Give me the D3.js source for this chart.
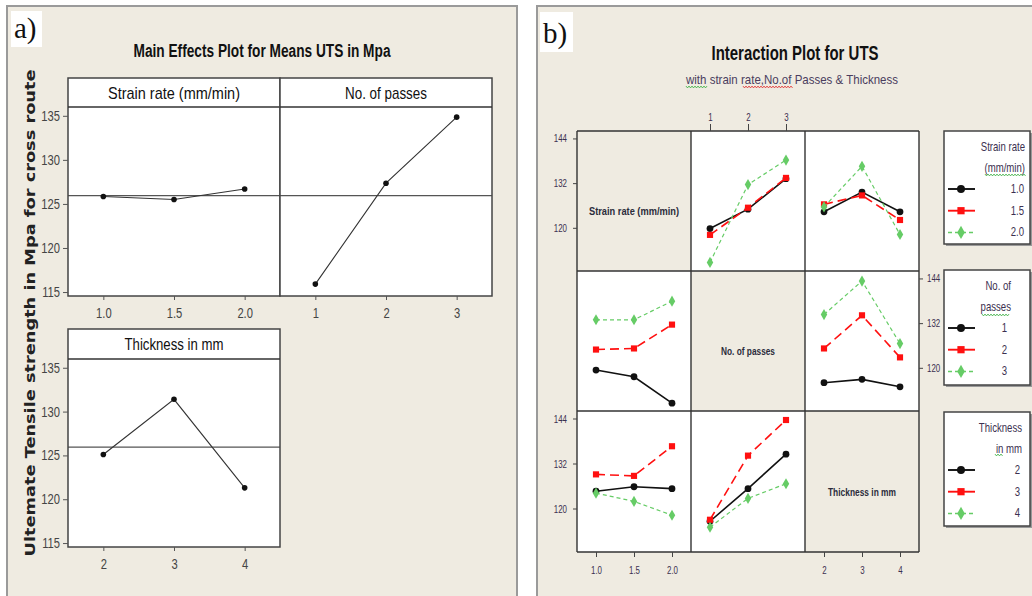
<!DOCTYPE html>
<html><head><meta charset="utf-8">
<script src="https://cdn.jsdelivr.net/npm/d3@7"></script>
<style>body{margin:0;background:#fff}svg{display:block}</style>
</head><body>
<script>
// ---------- DATA ----------
const strainLevels = ["1.0", "1.5", "2.0"];
const passLevels = ["1", "2", "3"];
const thickLevels = ["2", "3", "4"];
const mainTicks = [115, 120, 125, 130, 135];
const interTicks = [120, 132, 144];

// Main effects (means of UTS)
const meStrain = [125.85, 125.5, 126.7];
const mePasses = [115.9, 127.35, 134.85];
const meThick = [125.1, 131.4, 121.3];
const grandMean = 125.95;

// Interaction: rows = series factor levels, columns = x factor levels
const srByPasses = [[119.8, 125.0, 133.2], [118.1, 125.4, 133.4], [110.7, 131.6, 138.2]];
const srByThick = [[124.3, 129.6, 124.3], [126.3, 128.7, 122.1], [125.6, 136.5, 118.2]];
const passBySr = [[119.4, 117.6, 110.5], [124.9, 125.2, 131.6], [132.9, 132.9, 137.9]];
const passByThick = [[116.0, 116.9, 114.9], [125.2, 134.1, 122.8], [134.3, 143.3, 126.5]];
const thickBySr = [[124.6, 125.8, 125.3], [129.1, 128.7, 136.6], [124.1, 121.9, 118.2]];
const thickByPasses = [[116.6, 125.3, 134.5], [117.0, 134.1, 143.6], [115.0, 122.7, 126.6]];

const factorNames = ["Strain rate (mm/min)", "No. of passes", "Thickness in mm"];
const factorLevels = [strainLevels, passLevels, thickLevels];
const legendTitles = [["Strain rate", "(mm/min)"], ["No. of", "passes"], ["Thickness", "in mm"]];

// ---------- STYLE ----------
const BG = "#efebe1";
const NARROW = "'Liberation Sans Narrow','Arial Narrow','Liberation Sans',sans-serif";
const TICKC = "#3b3050";
const seriesStyle = [
  {color: "#111", width: 1.6, dash: null, symbol: d3.symbolCircle, size: 36},
  {color: "#ff1010", width: 1.6, dash: "9,5", symbol: d3.symbolSquare, size: 38},
  {color: "#66cc66", width: 1.2, dash: "4,3", symbol: d3.symbolDiamond, size: 36}
];

const svg = d3.select("body").append("svg").attr("width", 1032).attr("height", 596);
svg.append("rect").attr("width", 1032).attr("height", 596).attr("fill", "#fff");

// panels
svg.append("rect").attr("x", 7).attr("y", 6).attr("width", 510).attr("height", 600)
  .attr("fill", BG).attr("stroke", "#9a9a9a").attr("stroke-width", 2);
svg.append("rect").attr("x", 537).attr("y", 6).attr("width", 505).attr("height", 600)
  .attr("fill", BG).attr("stroke", "#9a9a9a").attr("stroke-width", 2);

// a) b) labels
svg.append("rect").attr("x", 11).attr("y", 11).attr("width", 31).attr("height", 36).attr("fill", "#fff");
svg.append("text").attr("x", 14).attr("y", 38).text("a)")
  .attr("font-family", "'Liberation Serif','DejaVu Serif',serif").attr("font-size", 29).attr("fill", "#111");
svg.append("rect").attr("x", 540).attr("y", 12).attr("width", 33).attr("height", 40).attr("fill", "#fff");
svg.append("text").attr("x", 543).attr("y", 43).text("b)")
  .attr("font-family", "'Liberation Serif','DejaVu Serif',serif").attr("font-size", 29).attr("fill", "#111");

function narrowText(sel, k) {
  sel.attr("transform", `scale(${k},1)`).each(function () {
    const t = d3.select(this);
    const x = +t.attr("x") || 0;
    t.attr("x", x / k);
  });
}

// ---------- MAIN EFFECTS ----------
svg.append("text").attr("x", 262).attr("y", 57).attr("text-anchor", "middle")
  .attr("font-family", NARROW).attr("font-weight", "bold").attr("font-size", 18)
  .attr("textLength", 257).attr("lengthAdjust", "spacingAndGlyphs").attr("fill", "#111")
  .text("Main Effects Plot for Means UTS in Mpa");

svg.append("text").attr("transform", "translate(35,313) rotate(-90)").attr("text-anchor", "middle")
  .attr("font-family", "'DejaVu Sans',sans-serif").attr("font-weight", "bold").attr("font-size", 14)
  .attr("textLength", 487).attr("lengthAdjust", "spacingAndGlyphs").attr("fill", "#222")
  .text("Ultemate Tensile strength in Mpa for cross route");

function mainEffect(x0, x1, yHead, yTop, yBot, levels, values, title, titleW, showY) {
  const g = svg.append("g");
  const x = d3.scalePoint().domain(levels).range([x0, x1]).padding(0.5);
  const y = d3.scaleLinear().domain([114.55, 136]).range([yBot, yTop]);
  g.append("rect").attr("x", x0).attr("y", yHead).attr("width", x1 - x0).attr("height", yBot - yHead).attr("fill", "#fff");
  g.append("line").attr("x1", x0).attr("x2", x1).attr("y1", y(grandMean)).attr("y2", y(grandMean))
    .attr("stroke", "#555").attr("stroke-width", 1.3);
  const pts = levels.map((l, i) => [x(l), y(values[i])]);
  g.append("path").attr("d", d3.line()(pts)).attr("fill", "none").attr("stroke", "#333").attr("stroke-width", 1.1);
  g.selectAll("circle.p").data(pts).join("circle").attr("cx", d => d[0]).attr("cy", d => d[1]).attr("r", 2.8).attr("fill", "#111");
  g.append("rect").attr("x", x0).attr("y", yHead).attr("width", x1 - x0).attr("height", yBot - yHead)
    .attr("fill", "none").attr("stroke", "#444").attr("stroke-width", 1.5);
  g.append("line").attr("x1", x0).attr("x2", x1).attr("y1", yTop).attr("y2", yTop).attr("stroke", "#333").attr("stroke-width", 1.5);
  g.append("text").attr("x", (x0 + x1) / 2).attr("y", (yHead + yTop) / 2 + 6).attr("text-anchor", "middle")
    .attr("font-family", NARROW).attr("font-size", 17).attr("fill", "#111")
    .attr("textLength", titleW).attr("lengthAdjust", "spacingAndGlyphs").text(title);
  const xa = g.append("g").attr("transform", `translate(0,${yBot})`).call(d3.axisBottom(x).tickSize(4).tickPadding(8));
  xa.select(".domain").remove();
  xa.selectAll("line").attr("stroke", "#555");
  xa.selectAll("text").attr("font-family", NARROW).attr("font-size", 14).attr("fill", "#444").call(narrowText, 0.8);
  if (showY) {
    const ya = g.append("g").attr("transform", `translate(${x0},0)`).call(d3.axisLeft(y).tickValues(mainTicks).tickSize(5).tickPadding(3));
    ya.select(".domain").remove();
    ya.selectAll("line").attr("stroke", "#555");
    ya.selectAll("text").attr("font-family", NARROW).attr("font-size", 14).attr("fill", "#444").call(narrowText, 0.8);
  }
}
mainEffect(68, 280, 78, 107, 296, strainLevels, meStrain, "Strain rate (mm/min)", 132, true);
mainEffect(280, 492, 78, 107, 296, passLevels, mePasses, "No. of passes", 82, false);
mainEffect(68, 280, 329, 359, 547, thickLevels, meThick, "Thickness in mm", 99, true);

// ---------- INTERACTION ----------
svg.append("text").attr("x", 795).attr("y", 60).attr("text-anchor", "middle")
  .attr("font-family", NARROW).attr("font-weight", "bold").attr("font-size", 21)
  .attr("textLength", 167).attr("lengthAdjust", "spacingAndGlyphs").attr("fill", "#111")
  .text("Interaction Plot for UTS");
svg.append("text").attr("x", 792).attr("y", 84).attr("text-anchor", "middle")
  .attr("font-family", NARROW).attr("font-size", 13.5)
  .attr("textLength", 212).attr("lengthAdjust", "spacingAndGlyphs").attr("fill", "#4a3d5e")
  .text("with strain rate,No.of Passes & Thickness");

function squiggle(x1, x2, y, color) {
  const pts = [];
  let up = true;
  for (let x = x1; x <= x2; x += 1.5) { pts.push([x, y + (up ? -0.9 : 0.9)]); up = !up; }
  svg.append("path").attr("d", d3.line()(pts)).attr("fill", "none").attr("stroke", color).attr("stroke-width", 0.9);
}
squiggle(686, 707, 87, "#3cb043");
squiggle(743, 793, 87, "#e03030");

const interData = {"0-1": srByPasses, "0-2": srByThick, "1-0": passBySr, "1-2": passByThick, "2-0": thickBySr, "2-1": thickByPasses};
const colX = [577, 691, 805, 919];
const rowY = [131, 271, 411, 552];
const yDomain = [108.4, 146];

for (let r = 0; r < 3; r++) {
  for (let c = 0; c < 3; c++) {
    const x0 = colX[c], x1 = colX[c + 1], y0 = rowY[r], y1 = rowY[r + 1];
    const g = svg.append("g");
    g.append("rect").attr("x", x0).attr("y", y0).attr("width", x1 - x0).attr("height", y1 - y0)
      .attr("fill", r === c ? BG : "#fff");
    if (r === c) {
      g.append("text").attr("x", (x0 + x1) / 2).attr("y", (y0 + y1) / 2 + 14).attr("text-anchor", "middle")
        .attr("font-family", NARROW).attr("font-weight", "bold").attr("font-size", 11).attr("fill", "#2b2b3b")
        .attr("textLength", [90, 54, 68][r]).attr("lengthAdjust", "spacingAndGlyphs")
        .text(factorNames[r]);
      continue;
    }
    const x = d3.scalePoint().domain(factorLevels[c]).range([x0, x1]).padding(0.5);
    const y = d3.scaleLinear().domain(yDomain).range([y1, y0]);
    const data = interData[r + "-" + c];
    data.forEach((vals, s) => {
      const st = seriesStyle[s];
      const pts = factorLevels[c].map((l, i) => [x(l), y(vals[i])]);
      g.append("path").attr("d", d3.line()(pts)).attr("fill", "none").attr("stroke", st.color)
        .attr("stroke-width", st.width).attr("stroke-dasharray", st.dash);
      g.selectAll(null).data(pts).join("path")
        .attr("transform", d => `translate(${d[0]},${d[1]})`)
        .attr("d", d3.symbol().type(st.symbol).size(st.size)).attr("fill", st.color);
    });
  }
}
const grid = svg.append("g").attr("stroke", "#333").attr("stroke-width", 1.4);
colX.forEach(xv => grid.append("line").attr("x1", xv).attr("x2", xv).attr("y1", rowY[0]).attr("y2", rowY[3]));
rowY.forEach(yv => grid.append("line").attr("x1", colX[0]).attr("x2", colX[3]).attr("y1", yv).attr("y2", yv));

function styleAxis(a) {
  a.select(".domain").remove();
  a.selectAll("line").attr("stroke", "#444");
  a.selectAll("text").attr("font-family", NARROW).attr("font-size", 11).attr("fill", TICKC).call(narrowText, 0.72);
}
styleAxis(svg.append("g").attr("transform", `translate(0,${rowY[0]})`)
  .call(d3.axisTop(d3.scalePoint().domain(passLevels).range([colX[1], colX[2]]).padding(0.5)).tickSize(7).tickPadding(3)));
styleAxis(svg.append("g").attr("transform", `translate(0,${rowY[3]})`)
  .call(d3.axisBottom(d3.scalePoint().domain(strainLevels).range([colX[0], colX[1]]).padding(0.5)).tickSize(5).tickPadding(9)));
styleAxis(svg.append("g").attr("transform", `translate(0,${rowY[3]})`)
  .call(d3.axisBottom(d3.scalePoint().domain(thickLevels).range([colX[2], colX[3]]).padding(0.5)).tickSize(5).tickPadding(9)));
[0, 2].forEach(r => {
  const y = d3.scaleLinear().domain(yDomain).range([rowY[r + 1], rowY[r]]);
  styleAxis(svg.append("g").attr("transform", `translate(${colX[0]},0)`)
    .call(d3.axisLeft(y).tickValues(interTicks).tickSize(4).tickPadding(6)));
});
{
  const y = d3.scaleLinear().domain(yDomain).range([rowY[2], rowY[1]]);
  styleAxis(svg.append("g").attr("transform", `translate(${colX[3]},0)`)
    .call(d3.axisRight(y).tickValues(interTicks).tickSize(4).tickPadding(4)));
}

// legends
const legBoxes = [[131, 244], [270, 385], [412, 526]];
const legTitleEnd = [1025, 1011, 1022];
const legLabelEnd = [1024, 1007, 1020];
function legText(g, x, y, t) {
  g.append("text").attr("transform", `translate(${x},${y}) scale(0.8,1)`).attr("text-anchor", "end")
    .attr("font-family", NARROW).attr("font-size", 12).attr("fill", "#3b3050").text(t);
}
legBoxes.forEach((b, k) => {
  const g = svg.append("g");
  g.append("rect").attr("x", 946).attr("y", b[0] + 2).attr("width", 86).attr("height", b[1] - b[0]).attr("fill", "#999");
  g.append("rect").attr("x", 944).attr("y", b[0]).attr("width", 86).attr("height", b[1] - b[0])
    .attr("fill", "#fff").attr("stroke", "#444").attr("stroke-width", 1.5);
  legendTitles[k].forEach((t, i) => legText(g, legTitleEnd[k], b[0] + 20 + i * 21, t));
  factorLevels[k].forEach((lv, i) => {
    const yy = b[0] + 58 + i * 21.7;
    const st = seriesStyle[i];
    g.append("line").attr("x1", 948).attr("x2", 975).attr("y1", yy).attr("y2", yy)
      .attr("stroke", st.color).attr("stroke-width", st.width + 0.3).attr("stroke-dasharray", i === 2 ? "4,3" : null);
    g.append("path").attr("transform", `translate(961,${yy})`).attr("d", d3.symbol().type(st.symbol).size(st.size + 14)).attr("fill", st.color);
    legText(g, legLabelEnd[k], yy + 4, lv);
  });
});
squiggle(985, 1026, 175, "#3cb043");
squiggle(982, 1010, 315, "#3cb043");
squiggle(995, 1003, 455, "#3cb043");
</script>
</body></html>
